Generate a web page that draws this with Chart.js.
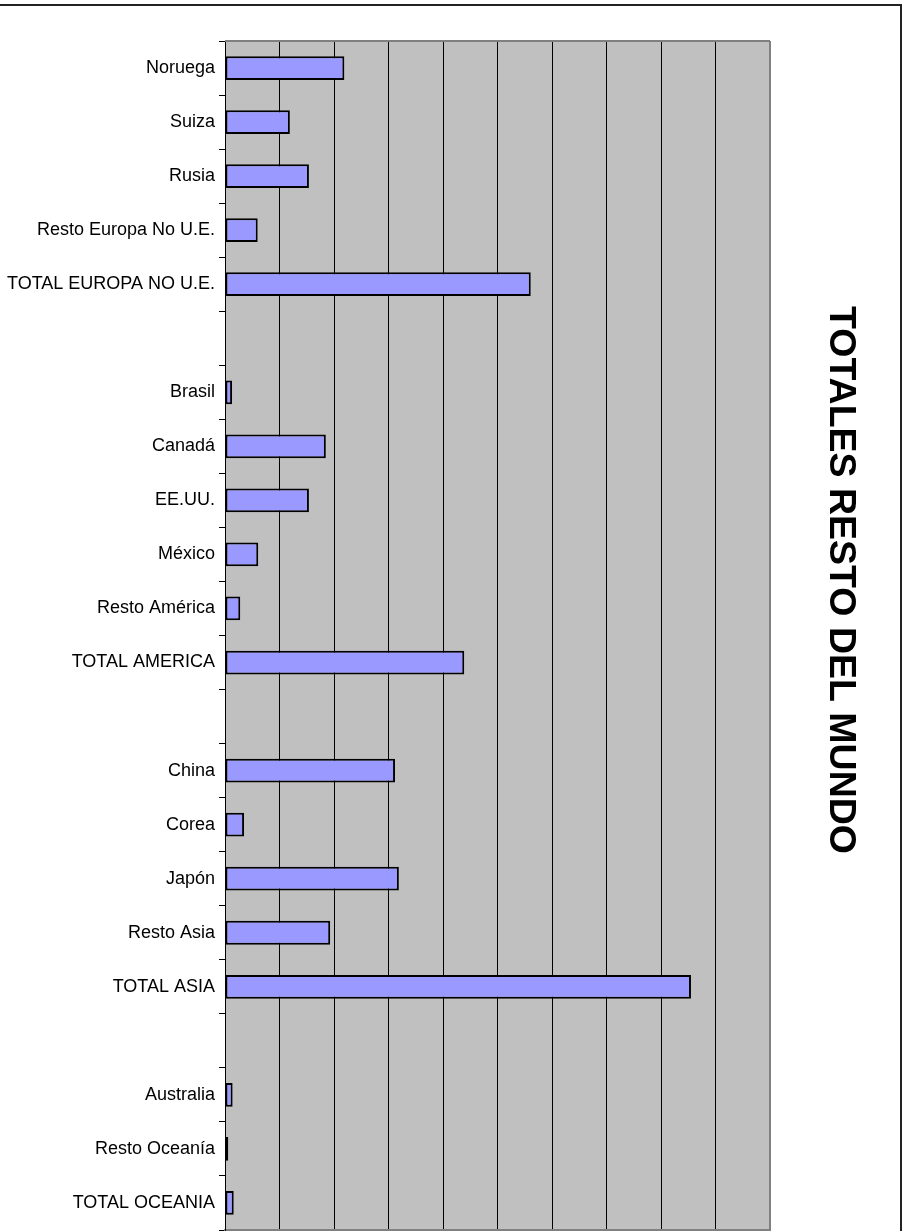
<!DOCTYPE html>
<html>
<head>
<meta charset="utf-8">
<script src="https://cdn.jsdelivr.net/npm/chart.js@4/dist/chart.umd.min.js"></script>
<style>
  html, body { margin: 0; padding: 0; background: #fff; }
  #wrap { position: relative; width: 909px; height: 1231px; }
</style>
</head>
<body>
<div id="wrap"><canvas id="c" width="909" height="1231"></canvas></div>
<script>
// Categories (empty strings are the blank separator rows)
const categories = [
  'Noruega', 'Suiza', 'Rusia', 'Resto Europa No U.E.', 'TOTAL EUROPA NO U.E.', '',
  'Brasil', 'Canadá', 'EE.UU.', 'México', 'Resto América', 'TOTAL AMERICA', '',
  'China', 'Corea', 'Japón', 'Resto Asia', 'TOTAL ASIA', '',
  'Australia', 'Resto Oceanía', 'TOTAL OCEANIA'
];
// Values (axis units unknown; 10 grid intervals)
const values = [
  2.19, 1.19, 1.54, 0.60, 5.61, null,
  0.13, 1.85, 1.54, 0.61, 0.28, 4.39, null,
  3.12, 0.35, 3.19, 1.93, 8.55, null,
  0.14, 0.06, 0.16
];
const xMin = 0, xMax = 10, xStep = 1;
const titleText = 'TOTALES RESTO DEL MUNDO';

const decor = {
  id: 'decor',
  beforeDraw(chart) {
    const {ctx, chartArea: a} = chart;
    ctx.save();
    ctx.fillStyle = '#C0C0C0';
    ctx.fillRect(a.left, a.top, a.right - a.left, a.bottom - a.top);
    ctx.restore();
  },
  afterDraw(chart) {
    const {ctx, chartArea: a} = chart;
    ctx.save();
    ctx.strokeStyle = '#808080';
    ctx.lineWidth = 2;
    ctx.beginPath();
    ctx.moveTo(a.left, a.top);
    ctx.lineTo(a.right, a.top);
    ctx.stroke();
    ctx.strokeStyle = '#222';
    ctx.lineWidth = 2;
    ctx.beginPath();
    ctx.moveTo(0, 5);
    ctx.lineTo(901, 5);
    ctx.lineTo(901, 1231);
    ctx.stroke();
    ctx.translate(830, 580);
    ctx.rotate(Math.PI / 2);
    ctx.fillStyle = '#000';
    ctx.font = 'bold 37.5px "Liberation Sans", Arial, sans-serif';
    ctx.textAlign = 'center';
    ctx.textBaseline = 'alphabetic';
    ctx.fillText(titleText, 0, 0);
    ctx.restore();
  }
};

new Chart(document.getElementById('c'), {
  type: 'bar',
  data: {
    labels: categories,
    datasets: [{
      data: values,
      backgroundColor: '#9999FF',
      borderColor: '#000',
      borderWidth: 2,
      borderSkipped: false,
      barPercentage: 0.44,
      categoryPercentage: 1
    }]
  },
  options: {
    indexAxis: 'y',
    responsive: false,
    animation: false,
    devicePixelRatio: 1,
    layout: { padding: { top: 41, right: 139, bottom: 1, left: 0 } },
    plugins: { legend: { display: false }, title: { display: false }, tooltip: { enabled: false } },
    scales: {
      x: {
        min: xMin, max: xMax,
        ticks: { display: false, stepSize: xStep },
        grid: {
          drawTicks: false,
          tickLength: 0,
          color: (c) => (c.tick && c.tick.value === xMax) ? '#808080' : '#000',
          lineWidth: (c) => (c.tick && c.tick.value === xMax) ? 2 : 1
        },
        border: { color: '#808080', width: 2 },
        afterFit(s) { s.height = 0; s.paddingLeft = 0; s.paddingRight = 0; }
      },
      y: {
        offset: true,
        grid: { offset: true, drawOnChartArea: false, tickLength: 6, color: '#000' },
        border: { color: '#000', width: 1 },
        ticks: {
          color: '#000',
          padding: 4,
          autoSkip: false,
          font: { family: '"Liberation Sans", Arial, sans-serif', size: 18 }
        },
        afterFit(s) { s.width = 225; s.paddingTop = 0; s.paddingBottom = 0; }
      }
    }
  },
  plugins: [decor]
});
</script>
</body>
</html>
